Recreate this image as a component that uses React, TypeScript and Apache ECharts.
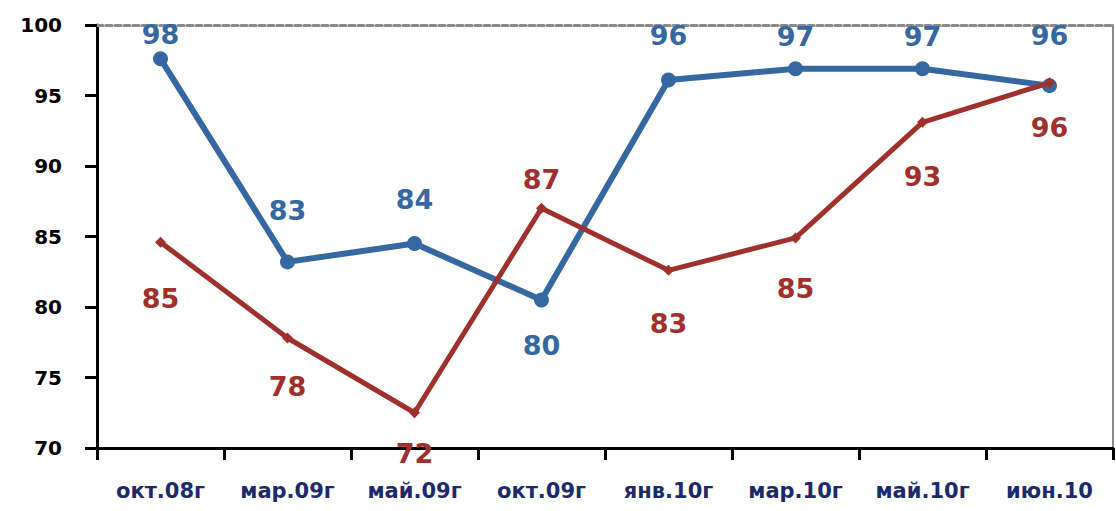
import React, { useEffect, useRef } from "react";
import * as echarts from "echarts";

const categories = ["окт.08г", "мар.09г", "май.09г", "окт.09г", "янв.10г", "мар.10г", "май.10г", "июн.10"];
const blueValues = [97.6, 83.2, 84.5, 80.5, 96.1, 96.9, 96.9, 95.7];
const redValues = [84.6, 77.8, 72.5, 87.0, 82.6, 84.9, 93.1, 95.9];
const blueLabels = ["98", "83", "84", "80", "96", "97", "97", "96"];
const redLabels = ["85", "78", "72", "87", "83", "85", "93", "96"];
const yTicks = { min: 70, max: 100, interval: 5 };

// label placement (style only)
const bluePos = ["top", "top", "top", "bottom", "top", "top", "top", "top"];
const blueDist = [3, 30, 23, 25, 23, 11, 11, 29];
const redPos = ["bottom", "bottom", "bottom", "top", "bottom", "bottom", "bottom", "bottom"];
const redDist = [37, 29, 22, 10, 34, 32, 35, 26];

const BLUE = "#3567a0";
const RED = "#a0302c";
const FONT = "DejaVu Sans";

export default function App() {
  const ref = useRef<HTMLDivElement>(null);
  useEffect(() => {
    if (!ref.current) return;
    const chart = echarts.init(ref.current, null, { renderer: "svg" });
    const mk = (vals: number[], labels: string[], pos: string[], dist: number[], color: string) =>
      vals.map((v, i) => ({
        value: v,
        label: {
          show: true,
          position: pos[i],
          distance: dist[i],
          formatter: labels[i],
          color,
          fontFamily: FONT,
          fontWeight: "bold",
          fontSize: 27,
        },
      }));
    chart.setOption({
      animation: false,
      grid: { left: 97, top: 25, right: 3, bottom: 63, containLabel: false },
      xAxis: [
        {
          type: "category",
          data: categories,
          boundaryGap: true,
          axisLine: { lineStyle: { color: "#000", width: 3 } },
          axisTick: { show: true, length: 12, lineStyle: { color: "#000", width: 3 } },
          axisLabel: {
            color: "#1c2a6b",
            fontFamily: FONT,
            fontWeight: "bold",
            fontSize: 21,
            margin: 32,
            interval: 0,
          },
          splitLine: { show: false },
        },
        {
          type: "category",
          data: categories,
          position: "top",
          axisLine: { lineStyle: { color: "#8a8a8a", width: 3, type: [6, 3] } },
          axisTick: { show: false },
          axisLabel: { show: false },
          splitLine: { show: false },
        },
      ],
      yAxis: [
        {
          type: "value",
          min: yTicks.min,
          max: yTicks.max,
          interval: yTicks.interval,
          axisLine: { show: true, lineStyle: { color: "#000", width: 3 } },
          axisTick: { show: true, length: 12, lineStyle: { color: "#000", width: 3 } },
          axisLabel: {
            color: "#000",
            fontFamily: FONT,
            fontWeight: "bold",
            fontSize: 20,
            margin: 35,
          },
          splitLine: { show: false },
        },
        {
          type: "value",
          min: yTicks.min,
          max: yTicks.max,
          interval: yTicks.interval,
          position: "right",
          axisLine: { show: true, lineStyle: { color: "#8a8a8a", width: 2 } },
          axisTick: { show: false },
          axisLabel: { show: false },
          splitLine: { show: false },
        },
      ],
      series: [
        {
          type: "line",
          data: mk(blueValues, blueLabels, bluePos, blueDist, BLUE),
          lineStyle: { color: BLUE, width: 6 },
          itemStyle: { color: BLUE },
          symbol: "circle",
          symbolSize: 15,
          z: 2,
        },
        {
          type: "line",
          data: mk(redValues, redLabels, redPos, redDist, RED),
          lineStyle: { color: RED, width: 5 },
          itemStyle: { color: RED },
          symbol: "diamond",
          symbolSize: 11,
          z: 3,
        },
      ],
    });
    return () => chart.dispose();
  }, []);
  return (
    <div
      ref={ref}
      style={{ position: "fixed", left: 0, top: 0, width: 1116, height: 511, background: "#fff" }}
    />
  );
}
